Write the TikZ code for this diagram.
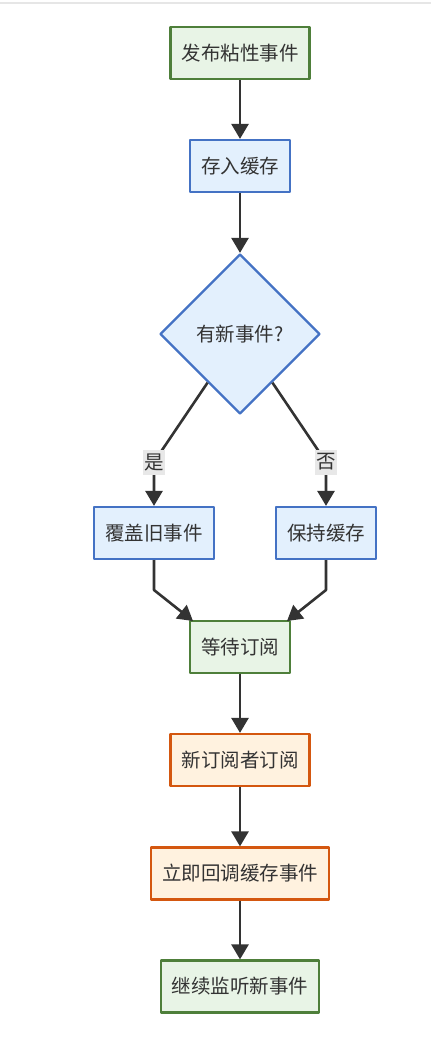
\documentclass[tikz,border=0pt]{standalone}
\usepackage{fontspec}
\setmainfont{Noto Sans CJK SC}
\usetikzlibrary{shapes.geometric,arrows.meta,calc}
\definecolor{greenline}{HTML}{4E7F3A}
\definecolor{greenfill}{HTML}{E8F4E6}
\definecolor{blueline}{HTML}{4472C4}
\definecolor{bluefill}{HTML}{E3F0FD}
\definecolor{orangeline}{HTML}{D4570F}
\definecolor{orangefill}{HTML}{FFF2DF}
\definecolor{linegray}{HTML}{333333}
\definecolor{taggray}{HTML}{E8E8E8}
\definecolor{rulegray}{HTML}{E6E6E6}
\begin{document}
\begin{tikzpicture}[x=1pt, y=-1pt, line join=round, >={Triangle[length=15pt,width=17pt]},
	every node/.style={font=\fontsize{19.5}{23}\selectfont, text=linegray},
	box/.style={line width=2.2pt, minimum height=52pt, inner xsep=11pt, inner ysep=0pt},
	greenbox/.style={box, draw=greenline, fill=greenfill},
	bluebox/.style={box, draw=blueline, fill=bluefill},
	orangebox/.style={box, draw=orangeline, fill=orangefill},
	decision/.style={diamond, draw=blueline, fill=bluefill, line width=2.2pt, minimum width=160pt, minimum height=160pt, inner sep=0pt},
	tag/.style={fill=taggray, inner xsep=1pt, inner ysep=2pt, minimum height=25pt},
	flow/.style={->, draw=linegray, line width=2.6pt}]
	\useasboundingbox (0,0) rectangle (431,1039);
	\draw[rulegray, line width=1.5pt] (0,3) -- (431,3);
	% nodes
	\node[greenbox] (publish) at (240,53) {发布粘性事件};
	\node[bluebox] (store) at (240,166) {存入缓存};
	\node[decision] (check) at (240,334) {有新事件?};
	\node[bluebox] (cover) at (154,533) {覆盖旧事件};
	\node[bluebox] (keep) at (326,533) {保持缓存};
	\node[greenbox] (wait) at (240,647) {等待订阅};
	\node[orangebox] (subscribe) at (240,760) {新订阅者订阅};
	\node[orangebox] (callback) at (240,873.5) {立即回调缓存事件};
	\node[greenbox] (listen) at (240,986.5) {继续监听新事件};
	% bends
	\coordinate (yesout) at ($(check.south)!0.4!(check.west)$);
	\coordinate (noout) at ($(check.south)!0.4!(check.east)$);
	\coordinate (yesbend) at (154,462);
	\coordinate (nobend) at (326,462);
	\coordinate (coverbend) at (154,590);
	\coordinate (keepbend) at (326,590);
	\coordinate (waitleft) at (193,621);
	\coordinate (waitright) at (287,621);
	% edges
	\draw[flow] (publish) -- (store);
	\draw[flow] (store) -- (check);
	\draw[flow] (yesout) -- (yesbend) node[tag] {是} -- (cover);
	\draw[flow] (noout) -- (nobend) node[tag] {否} -- (keep);
	\draw[flow] (cover) -- (coverbend) -- (waitleft);
	\draw[flow] (keep) -- (keepbend) -- (waitright);
	\draw[flow] (wait) -- (subscribe);
	\draw[flow] (subscribe) -- (callback);
	\draw[flow] (callback) -- (listen);
\end{tikzpicture}
\end{document}
